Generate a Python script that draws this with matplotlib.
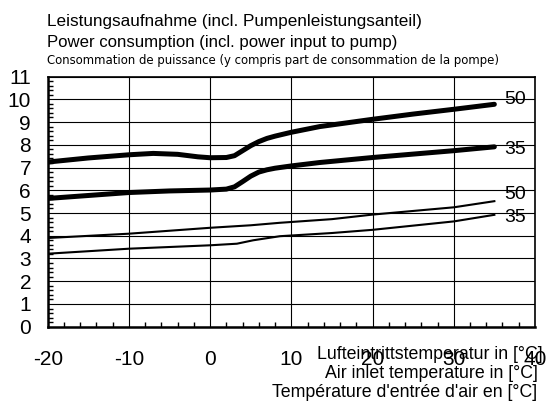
import matplotlib.pyplot as plt
from matplotlib import font_manager
from matplotlib.ticker import MultipleLocator

plt.rcParams['font.family'] = ['Liberation Sans', 'DejaVu Sans']
plt.rcParams['axes.unicode_minus'] = False

# curve data (air inlet temperature -> power consumption)
x_50_thick = [-20, -15, -10, -7, -4, -1.5, 0, 2, 3, 4, 5, 6, 7, 8, 10, 13.5, 20, 25, 30, 35]
y_50_thick = [7.24, 7.42, 7.56, 7.62, 7.58, 7.47, 7.43, 7.44, 7.52, 7.74, 7.96, 8.14, 8.28,
              8.38, 8.55, 8.80, 9.12, 9.35, 9.56, 9.78]

x_35_thick = [-20, -10, -5, 0, 2, 3, 4, 5, 6, 7, 8, 10, 13.5, 20, 30, 35]
y_35_thick = [5.64, 5.90, 5.97, 6.01, 6.05, 6.15, 6.38, 6.62, 6.80, 6.90, 6.97, 7.07, 7.22,
              7.44, 7.74, 7.91]

x_50_thin = [-20, -10, 0, 5, 8.6, 15, 20, 30, 35]
y_50_thin = [3.90, 4.09, 4.35, 4.46, 4.57, 4.73, 4.93, 5.25, 5.52]

x_35_thin = [-20, -10, 0, 3.3, 5.3, 8.6, 15, 20, 30, 35]
y_35_thin = [3.21, 3.43, 3.58, 3.65, 3.80, 3.98, 4.12, 4.26, 4.63, 4.92]

curve_labels = ['50', '35', '50', '35']
label_x = 36.2
label_y = [9.80, 7.58, 5.63, 4.60]

title_lines = ['Leistungsaufnahme (incl. Pumpenleistungsanteil)',
               'Power consumption (incl. power input to pump)',
               'Consommation de puissance (y compris part de consommation de la pompe)']
xlabel_lines = ['Lufteintrittstemperatur in [°C]',
                'Air inlet temperature in [°C]',
                "Température d'entrée d'air en [°C]"]

# narrow font for the french title line if one is installed
narrow = dict(family='Liberation Sans', fontsize=9.6)
for fam, stretch, size in [('Liberation Sans Narrow', 'normal', 10.5),
                           ('DejaVu Sans', 'condensed', 9.35)]:
    try:
        path = font_manager.findfont(font_manager.FontProperties(family=fam, stretch=stretch),
                                     fallback_to_default=False)
    except ValueError:
        continue
    if 'Narrow' in path or 'Condensed' in path:
        narrow = dict(family=fam, fontstretch=stretch, fontsize=size)
        break

fig = plt.figure(figsize=(5.47, 4.05), dpi=100)
ax = fig.add_axes([0.0872, 0.1933, 0.8908, 0.6177])

ax.plot(x_50_thick, y_50_thick, color='black', lw=3.6, solid_capstyle='round')
ax.plot(x_35_thick, y_35_thick, color='black', lw=3.6, solid_capstyle='round')
ax.plot(x_50_thin, y_50_thin, color='black', lw=1.5)
ax.plot(x_35_thin, y_35_thin, color='black', lw=1.5)

for lab, ly in zip(curve_labels, label_y):
    ax.text(label_x, ly, lab, fontsize=14, ha='left', va='baseline', clip_on=False)

ax.set_xlim(-20, 40)
ax.set_ylim(0, 11)
ax.xaxis.set_major_locator(MultipleLocator(10))
ax.xaxis.set_minor_locator(MultipleLocator(2))
ax.yaxis.set_major_locator(MultipleLocator(1))
ax.yaxis.set_minor_locator(MultipleLocator(0.2))
ax.tick_params(axis='x', which='major', direction='in', length=0, pad=17, labelsize=15)
ax.tick_params(axis='y', which='major', direction='in', length=0, pad=12, labelsize=15)
ax.tick_params(which='minor', direction='in', length=3.5, width=1)
ax.grid(True, which='major', color='black', lw=0.8)

for side in ['top', 'right']:
    ax.spines[side].set_linewidth(1.2)
for side in ['left', 'bottom']:
    ax.spines[side].set_linewidth(1.8)

# titles
fig.text(0.086, 1 - 26 / 405, title_lines[0], fontsize=12.3, va='baseline')
fig.text(0.086, 1 - 47.5 / 405, title_lines[1], fontsize=12.1, va='baseline')
fig.text(0.086, 1 - 64 / 405, title_lines[2], va='baseline', **narrow)

# axis label lines (right aligned)
fig.text(0.992, 1 - 359 / 405, xlabel_lines[0], fontsize=12.75, ha='right', va='baseline')
fig.text(0.984, 1 - 378 / 405, xlabel_lines[1], fontsize=12.75, ha='right', va='baseline')
fig.text(0.982, 1 - 397 / 405, xlabel_lines[2], fontsize=12.75, ha='right', va='baseline')

fig.savefig('out.png', dpi=100)
